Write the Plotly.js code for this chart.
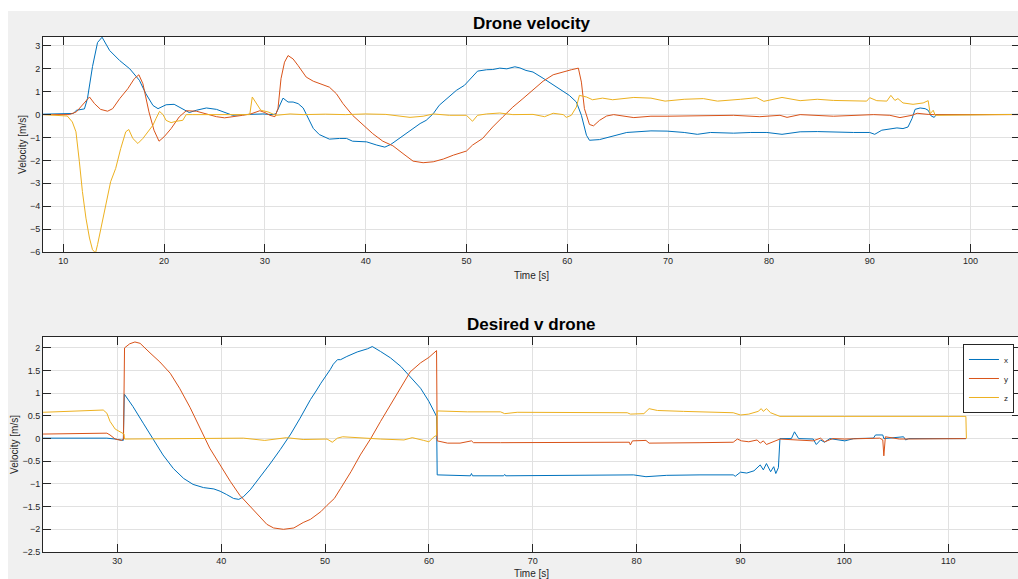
<!DOCTYPE html>
<html>
<head>
<meta charset="utf-8">
<script src="https://cdn.plot.ly/plotly-3.0.1.min.js"></script>
<style>
html,body{margin:0;padding:0;background:#ffffff;overflow:hidden;width:1018px;height:579px;}
#chart{position:absolute;left:8px;top:11px;width:1012px;height:568px;}
</style>
</head>
<body>
<div id="chart"></div>
<script>
// ---- Top panel: "Drone velocity" ----
const topTitle = "Drone velocity";
const bottomTitle = "Desired v drone";
const xLabel = "Time [s]";
const yLabel = "Velocity [m/s]";
const seriesNames = ["x", "y", "z"];

const topTimeX = [8,10,11.0,11.3,12.1,12.4,12.9,13.4,13.85,14.6,15.6,16.6,17.55,18.2,18.9,19.4,20.2,21.0,21.85,22.5,23.2,24.2,25.2,26.2,26.8,27.8,28.8,29.8,30.8,31.1,31.8,32.3,32.8,33.3,33.8,34.15,34.8,35.4,36.4,37.4,38.1,38.7,40.1,41.1,41.9,42.5,43.4,44.4,45.4,46.0,46.7,47.3,48.2,49.0,49.8,50.5,51.1,52.0,52.6,53.3,54.0,54.8,55.3,55.9,56.6,57.6,58.6,59.6,60.2,60.9,61.4,61.9,62.2,63.2,64.2,65.2,65.9,68.3,69.9,71.6,72.9,74.2,76.5,78.2,79.8,81.3,83.1,84.8,86.4,88.4,90.0,90.5,91.2,92.0,92.7,93.3,93.8,94.2,94.5,95.0,95.5,95.8,96.1,96.4,96.6,100,104.9];
const topVelX = [0.02,0.03,0.05,0.19,0.25,0.7,2.1,3.15,3.38,2.8,2.36,2.0,1.5,0.91,0.4,0.26,0.43,0.45,0.26,0.09,0.19,0.29,0.23,0.07,-0.03,0.0,0.03,0.03,0.0,0.04,0.72,0.55,0.55,0.48,0.29,-0.03,-0.6,-0.87,-1.07,-1.04,-1.04,-1.16,-1.19,-1.33,-1.42,-1.3,-1.01,-0.68,-0.39,-0.25,0.04,0.41,0.77,1.06,1.28,1.64,1.9,1.96,1.97,2.03,2.0,2.09,2.04,1.93,1.86,1.59,1.3,0.99,0.84,0.55,-0.03,-0.9,-1.12,-1.09,-0.97,-0.87,-0.78,-0.71,-0.72,-0.78,-0.86,-0.78,-0.81,-0.78,-0.78,-0.86,-0.75,-0.74,-0.77,-0.78,-0.78,-0.86,-0.68,-0.64,-0.58,-0.61,-0.54,-0.17,0.23,0.29,0.26,0.19,-0.06,-0.12,0.0,0.0,0.01];

const topTimeY = [8,10.6,11.3,11.9,12.6,13.1,13.7,14.4,14.9,15.6,16.4,17.05,17.5,17.9,18.5,19.0,19.5,20.0,20.7,21.5,22.2,23.2,24.2,25.2,26.0,26.8,27.8,28.6,29.5,30.0,30.5,31.0,31.3,31.6,31.95,32.3,32.8,33.3,33.8,34.1,34.8,35.4,36.4,37.1,37.75,38.7,39.7,40.7,41.7,42.7,43.7,44.7,45.7,46.7,47.7,48.7,50.0,50.6,51.6,52.6,53.6,54.6,55.6,56.6,57.6,58.6,59.6,60.4,61.1,61.4,61.7,62.2,62.6,63.2,63.9,64.6,66.6,68.3,69.9,73.2,76.5,79.1,81.1,81.8,83.1,86.4,88.4,90.4,92.0,93.0,94.2,94.7,95.8,96.4,104.9];
const topVelY = [0,0,0.12,0.4,0.77,0.48,0.23,0.15,0.26,0.7,1.13,1.57,1.74,1.35,0.12,-0.68,-1.16,-0.97,-0.61,-0.1,0.17,0.15,0.04,-0.09,-0.14,-0.1,-0.03,0.03,0.17,0.09,-0.03,-0.09,0.26,1.57,2.29,2.58,2.43,2.14,1.86,1.64,1.46,1.35,1.2,0.91,0.48,-0.03,-0.43,-0.83,-1.16,-1.36,-1.7,-2.03,-2.1,-2.06,-1.94,-1.77,-1.59,-1.33,-1.04,-0.54,-0.1,0.33,0.7,1.06,1.46,1.74,1.88,1.96,2.03,1.42,0.26,-0.43,-0.49,-0.25,-0.06,0.0,-0.13,-0.07,-0.07,-0.06,-0.03,-0.09,-0.03,-0.12,0.0,-0.07,-0.03,0.0,-0.03,-0.13,-0.03,0.06,0.01,0.0,0.0];

const topTimeZ = [8,10.4,10.9,11.26,11.6,11.9,12.25,12.6,12.9,13.2,13.4,13.75,14.2,14.7,15.2,15.7,16.2,16.5,16.9,17.4,17.9,18.4,18.9,19.2,19.55,19.9,20.2,20.7,21.2,21.85,22.2,22.85,24.5,26.2,27.8,28.5,28.75,29.1,29.6,30.3,30.8,31.1,32.5,33.8,36,38,40,42,44.4,45.7,46.7,48.3,50.0,50.6,51.1,52.0,53.3,54.6,56.6,57.75,58.6,59.6,59.9,60.4,60.9,61.2,61.9,62.5,63.5,64.5,66.6,68.3,69.7,71.6,73.5,74.9,77.2,78.8,79.5,81.3,83.1,84.8,86.4,88.4,89.7,90.0,90.7,91.7,92.1,92.5,92.8,93.3,94.3,95.3,95.8,96.0,96.3,96.5,104.9];
const topVelZ = [0,-0.06,-0.32,-0.75,-2.06,-3.36,-4.52,-5.39,-5.9,-6.04,-5.68,-4.96,-4.09,-2.93,-2.35,-1.48,-0.75,-0.65,-1.04,-1.26,-1.04,-0.75,-0.46,-0.17,0.14,0.0,-0.25,-0.35,-0.29,-0.25,0.0,0.0,0.0,-0.03,-0.03,0.0,0.77,0.55,0.19,0.12,0.04,-0.03,0.03,0.0,0.02,0.0,0.03,0.01,-0.12,-0.07,0.03,-0.03,-0.03,-0.29,-0.03,0.03,0.07,0.0,0.01,-0.09,0.06,0.0,-0.12,-0.03,0.33,0.84,0.77,0.65,0.72,0.65,0.75,0.72,0.59,0.67,0.7,0.59,0.67,0.74,0.58,0.75,0.61,0.67,0.62,0.62,0.59,0.74,0.61,0.59,0.84,0.62,0.7,0.51,0.45,0.51,0.61,0.04,0.19,-0.03,0.01];

// ---- Bottom panel: "Desired v drone" ----
const botTimeX = [22.86,29.0,29.8,30.58,30.68,31.5,32.5,33.5,34.4,35.4,36.4,37.3,38.3,39.3,39.9,40.5,41.2,41.7,42.15,42.8,43.8,44.7,45.7,46.7,47.6,48.6,49.2,49.6,50.5,50.8,51.2,51.5,52.1,53.1,54.1,54.55,55.35,56.3,57.3,58.2,59.2,60.0,60.5,60.74,60.8,64.0,64.1,64.2,67.2,67.3,67.4,76.5,78.8,79.7,80.9,82.9,86.1,89.3,89.5,90.0,90.6,91.3,91.9,92.2,92.5,92.9,93.2,93.4,93.65,93.8,94.9,95.2,95.6,97.0,97.3,97.7,98.1,98.6,100.05,100.9,102.8,103.0,103.7,103.8,105.7,105.9,106.2,111.7];
const botVelX = [0.01,0.01,-0.01,-0.04,0.98,0.71,0.34,-0.03,-0.36,-0.66,-0.88,-1.01,-1.08,-1.11,-1.16,-1.23,-1.32,-1.34,-1.28,-1.13,-0.84,-0.56,-0.24,0.1,0.45,0.86,1.07,1.22,1.52,1.64,1.74,1.74,1.81,1.91,1.98,2.03,1.92,1.78,1.59,1.37,1.11,0.82,0.6,0.49,-0.8,-0.82,-0.77,-0.82,-0.82,-0.79,-0.82,-0.8,-0.79,-0.8,-0.84,-0.81,-0.8,-0.8,-0.83,-0.74,-0.76,-0.71,-0.58,-0.69,-0.55,-0.73,-0.62,-0.77,-0.64,0.0,0.0,0.15,0.0,-0.01,-0.13,-0.03,-0.08,0.0,-0.05,0.0,0.01,0.08,0.08,0.0,0.04,-0.03,0.0,0.0];

const botTimeY = [22.86,29.0,29.3,29.8,30.4,30.6,30.7,31.2,31.7,32.2,33.15,34.1,35.1,36.0,37.0,38.0,38.9,39.9,40.9,41.8,42.8,43.8,44.4,45.05,46.0,47.0,47.9,48.6,49.6,50.2,50.9,51.5,52.5,53.4,54.4,55.35,56.3,57.3,58.2,59.2,60.0,60.74,60.8,61.8,63.0,64.1,64.3,66.9,70.1,78.4,79.3,79.4,79.6,80.9,81.2,86.1,89.3,89.7,90.1,90.8,91.6,91.9,92.2,92.5,93.0,93.8,97.0,97.7,98.1,98.9,100.05,103.4,103.7,103.8,103.95,105.3,111.7];
const botVelY = [0.10,0.12,0.08,-0.01,-0.04,-0.01,2.0,2.09,2.13,2.1,1.89,1.69,1.44,1.11,0.69,0.23,-0.21,-0.58,-0.95,-1.25,-1.5,-1.76,-1.89,-1.97,-2.0,-1.97,-1.85,-1.78,-1.61,-1.47,-1.32,-1.1,-0.73,-0.36,0.0,0.38,0.74,1.11,1.47,1.67,1.79,1.94,-0.05,-0.1,-0.1,-0.05,-0.09,-0.09,-0.09,-0.08,-0.08,-0.14,-0.05,-0.04,-0.1,-0.09,-0.08,-0.01,-0.05,-0.07,-0.03,-0.1,-0.05,-0.13,-0.08,-0.01,-0.05,0.01,-0.07,0.0,-0.01,0.01,-0.03,-0.38,0.04,-0.01,0.0];

const botTimeZ = [22.86,28.65,29.0,29.3,29.8,30.4,30.65,30.7,35,38.9,42.15,44.2,45.4,46.3,47.9,50.2,50.7,51.2,51.7,53.4,55.35,57.6,58.4,59.5,60.0,60.5,60.74,60.8,62.1,63.7,66.9,67.3,68.5,73.3,78.4,79.1,79.4,80.7,81.2,82.0,84.5,87.7,89.3,90.0,90.8,91.7,92.0,92.2,92.5,92.9,93.5,93.8,111.7,111.75];
const botVelZ = [0.58,0.63,0.56,0.38,0.21,0.12,0.1,-0.01,0.0,0.01,0.01,-0.04,-0.01,0.02,-0.02,-0.01,-0.08,0.01,0.04,0.01,-0.01,-0.03,0.02,-0.04,-0.07,0.04,0.07,0.61,0.6,0.59,0.59,0.55,0.58,0.58,0.58,0.57,0.54,0.55,0.66,0.62,0.6,0.58,0.57,0.52,0.54,0.6,0.66,0.6,0.66,0.57,0.52,0.49,0.49,0.0];

const xTicksTop = [10,20,30,40,50,60,70,80,90,100];
const xTicksBot = [30,40,50,60,70,80,90,100,110];
const yTicksTop = [-6,-5,-4,-3,-2,-1,0,1,2,3];
const yTicksBot = [-2.5,-2,-1.5,-1,-0.5,0,0.5,1,1.5,2];

const colors = ["#0072BD", "#D95319", "#EDB120"];

function line(x, y, i, xa, ya, show) {
  return {x: x, y: y, type: "scatter", mode: "lines", name: seriesNames[i],
    xaxis: xa, yaxis: ya, showlegend: show,
    line: {color: colors[i], width: 1}};
}

const data = [
  line(topTimeX, topVelX, 0, "x", "y", false),
  line(topTimeY, topVelY, 1, "x", "y", false),
  line(topTimeZ, topVelZ, 2, "x", "y", false),
  line(botTimeX, botVelX, 0, "x2", "y2", true),
  line(botTimeY, botVelY, 1, "x2", "y2", true),
  line(botTimeZ, botVelZ, 2, "x2", "y2", true)
];

const FONT = "Liberation Sans, Arial, Helvetica, sans-serif";
const axColor = "#262626";
function axis(extra) {
  return Object.assign({
    showline: true, mirror: "ticks", linecolor: axColor, linewidth: 1,
    ticks: "inside", ticklen: 8, tickcolor: axColor, tickwidth: 1,
    showgrid: true, gridcolor: "#e1e1e1", gridwidth: 1, zeroline: false,
    tickfont: {family: FONT, size: 9, color: axColor},
    automargin: false
  }, extra);
}

const layout = {
  width: 1012, height: 568,
  paper_bgcolor: "#f0f0f0", plot_bgcolor: "#ffffff",
  margin: {l: 35, r: 0, t: 26, b: 27},
  font: {family: FONT, color: axColor},
  title: {text: topTitle, x: 0.5, xref: "paper", xanchor: "center",
          y: 0.979, yref: "container", yanchor: "middle",
          font: {family: FONT, size: 17, weight: "bold", color: "#000000"}},
  xaxis: axis({domain: [0, 1], anchor: "y", range: [7.99, 104.91], tickvals: xTicksTop,
               title: {text: xLabel, standoff: 7, font: {family: FONT, size: 10, color: axColor}}}),
  yaxis: axis({domain: [0.5825, 1], anchor: "x", range: [-6, 3.39], tickvals: yTicksTop,
               title: {text: yLabel, standoff: 1, font: {family: FONT, size: 10, color: axColor}}}),
  xaxis2: axis({domain: [0, 1], anchor: "y2", range: [22.85, 116.91], tickvals: xTicksBot,
               title: {text: xLabel, standoff: 6, font: {family: FONT, size: 10, color: axColor}}}),
  yaxis2: axis({domain: [0, 0.4175], anchor: "x2", range: [-2.5, 2.24], tickvals: yTicksBot,
               title: {text: yLabel, standoff: 1, font: {family: FONT, size: 10, color: axColor}}}),
  annotations: [{text: bottomTitle, xref: "paper", yref: "paper", x: 0.5, y: 0.4427,
                 xanchor: "center", yanchor: "middle", showarrow: false,
                 font: {family: FONT, size: 17, weight: "bold", color: "#000000"}}],
  legend: {x: 0.9938, xanchor: "right", y: 0.4039, yanchor: "top",
           bgcolor: "#ffffff", bordercolor: axColor, borderwidth: 1,
           font: {family: FONT, size: 8, color: axColor}, itemwidth: 30,
           tracegroupgap: 0}
};

Plotly.newPlot("chart", data, layout, {displayModeBar: false, staticPlot: true});
</script>
</body>
</html>
